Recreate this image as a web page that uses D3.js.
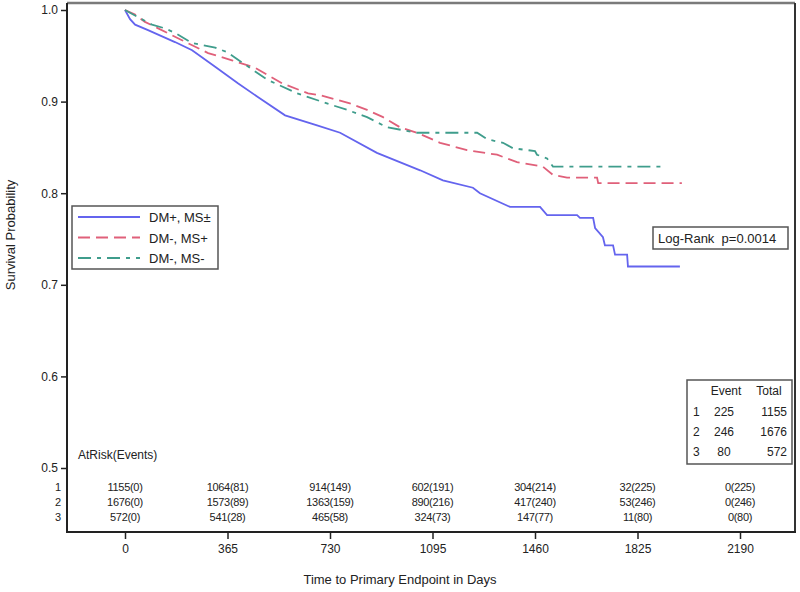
<!DOCTYPE html>
<html>
<head>
<meta charset="utf-8">
<script src="https://cdn.jsdelivr.net/npm/d3@7"></script>
<style>
  body { margin: 0; background: #fff; }
  svg { display: block; font-family: "Liberation Sans", Arial, sans-serif; }
</style>
</head>
<body>
<svg id="chart" width="800" height="592"></svg>
<script>
// ---- data ----
const seriesNames = ["DM+, MS\u00b1", "DM-, MS+", "DM-, MS-"];
const seriesColors = ["#6464ee", "#e0607a", "#3f9d8c"];

// [day, survival probability]
const curveDMpos = [[0,1],[18,0.99],[36,0.984],[82,0.978],[178,0.965],[239,0.956],[321,0.938],[402,0.920],[473,0.905],[570,0.885],[684,0.874],[766,0.866],[897,0.844],[1051,0.825],[1132,0.814],[1239,0.806],[1264,0.800],[1371,0.785],[1478,0.785],[1503,0.776],[1610,0.776],[1620,0.773],[1667,0.773],[1674,0.762],[1702,0.752],[1709,0.743],[1738,0.743],[1745,0.733],[1788,0.733],[1791,0.720],[1976,0.720]];
const curveDMnegMSpos = [[0,1],[36,0.995],[71,0.987],[118,0.980],[203,0.967],[296,0.953],[381,0.945],[463,0.937],[559,0.920],[652,0.909],[694,0.907],[801,0.898],[862,0.891],[919,0.883],[979,0.872],[1040,0.866],[1122,0.855],[1218,0.847],[1325,0.842],[1396,0.834],[1488,0.829],[1524,0.820],[1574,0.817],[1681,0.817],[1685,0.811],[1983,0.811]];
const curveDMnegMSneg = [[0,1],[11,0.998],[96,0.984],[142,0.980],[178,0.975],[239,0.964],[321,0.959],[363,0.954],[420,0.942],[506,0.924],[613,0.909],[719,0.898],[791,0.891],[862,0.883],[933,0.872],[1040,0.866],[1254,0.866],[1289,0.859],[1346,0.855],[1382,0.849],[1460,0.846],[1467,0.842],[1503,0.838],[1524,0.829],[1916,0.829]];

const xTicks = [0, 365, 730, 1095, 1460, 1825, 2190];
const yTicks = [0.5, 0.6, 0.7, 0.8, 0.9, 1.0];

const atRisk1 = [1155, 1064, 914, 602, 304, 32, 0];
const events1 = [0, 81, 149, 191, 214, 225, 225];
const atRisk2 = [1676, 1573, 1363, 890, 417, 53, 0];
const events2 = [0, 89, 159, 216, 240, 246, 246];
const atRisk3 = [572, 541, 465, 324, 147, 11, 0];
const events3 = [0, 28, 58, 73, 77, 80, 80];

const tableEvents = [225, 246, 80];
const tableTotals = [1155, 1676, 572];
const logRankText = "Log-Rank  p=0.0014";

// ---- drawing ----
const svg = d3.select("#chart");
const frame = { left: 67, right: 795, top: 3, bottom: 532 };
const x = d3.scaleLinear().domain([0, 2190]).range([125, 740]);
const y = d3.scaleLinear().domain([0.5, 1.0]).range([468, 10]);

svg.append("rect").attr("width", 800).attr("height", 592).attr("fill", "#fff");

// curves
const curves = [curveDMpos, curveDMnegMSpos, curveDMnegMSneg];
const dashes = [null, "12,6", "13,6,4,6"];
const line = d3.line().x(d => x(d[0])).y(d => y(d[1])).curve(d3.curveLinear);
curves.forEach((c, i) => {
  svg.append("path").datum(c)
    .attr("d", line)
    .attr("fill", "none")
    .attr("stroke", seriesColors[i])
    .attr("stroke-width", 1.8)
    .attr("stroke-dasharray", dashes[i]);
});

// frame
svg.append("line").attr("x1", frame.left).attr("x2", frame.right).attr("y1", frame.top).attr("y2", frame.top)
  .attr("stroke", "#7a7a7a").attr("stroke-width", 2.5);
svg.append("line").attr("x1", frame.right).attr("x2", frame.right).attr("y1", frame.top).attr("y2", frame.bottom)
  .attr("stroke", "#333").attr("stroke-width", 2);
svg.append("line").attr("x1", frame.left).attr("x2", frame.left).attr("y1", frame.top).attr("y2", frame.bottom + 1)
  .attr("stroke", "#222").attr("stroke-width", 2);
svg.append("line").attr("x1", frame.left - 1).attr("x2", frame.right + 1).attr("y1", frame.bottom).attr("y2", frame.bottom)
  .attr("stroke", "#222").attr("stroke-width", 2);

// y axis
const yAxis = svg.append("g").attr("transform", `translate(${frame.left},0)`)
  .call(d3.axisLeft(y).tickValues(yTicks).tickFormat(d3.format(".1f")).tickSize(6).tickPadding(3));
yAxis.select(".domain").remove();
yAxis.selectAll("line").attr("stroke", "#222").attr("stroke-width", 1.5);
yAxis.selectAll("text").attr("font-size", 12).attr("fill", "#222").attr("font-family", "Liberation Sans, Arial, sans-serif");

// x axis
const xAxis = svg.append("g").attr("transform", `translate(0,${frame.bottom})`)
  .call(d3.axisBottom(x).tickValues(xTicks).tickFormat(d3.format("d")).tickSize(7).tickPadding(5));
xAxis.select(".domain").remove();
xAxis.selectAll("line").attr("stroke", "#222").attr("stroke-width", 1.5);
xAxis.selectAll("text").attr("font-size", 12).attr("fill", "#222").attr("font-family", "Liberation Sans, Arial, sans-serif");

// axis titles
svg.append("text").attr("x", 400).attr("y", 584).attr("text-anchor", "middle")
  .attr("font-size", 13).attr("fill", "#222").text("Time to Primary Endpoint in Days");
svg.append("text").attr("transform", "translate(15,235) rotate(-90)").attr("text-anchor", "middle")
  .attr("font-size", 13).attr("fill", "#222").text("Survival Probability");

// legend
const lg = svg.append("g");
lg.append("rect").attr("x", 72).attr("y", 206).attr("width", 146).attr("height", 63)
  .attr("fill", "#fff").attr("stroke", "#555").attr("stroke-width", 1.5);
seriesNames.forEach((n, i) => {
  const ly = 217 + i * 20.5;
  lg.append("line").attr("x1", 78).attr("x2", 140).attr("y1", ly).attr("y2", ly)
    .attr("stroke", seriesColors[i]).attr("stroke-width", 1.8).attr("stroke-dasharray", dashes[i]);
  lg.append("text").attr("x", 149).attr("y", ly + 5).attr("font-size", 13).attr("fill", "#222").text(n);
});

// log-rank box
svg.append("rect").attr("x", 653).attr("y", 227).attr("width", 135).attr("height", 22)
  .attr("fill", "#fff").attr("stroke", "#555").attr("stroke-width", 1.5);
svg.append("text").attr("x", 658).attr("y", 243).attr("font-size", 13).attr("fill", "#222")
  .attr("xml:space", "preserve").style("white-space", "pre").text(logRankText);

// event table
const tb = svg.append("g");
tb.append("rect").attr("x", 687).attr("y", 380).attr("width", 105).attr("height", 84)
  .attr("fill", "#fff").attr("stroke", "#555").attr("stroke-width", 1.5);
tb.append("text").attr("x", 726).attr("y", 395).attr("text-anchor", "middle").attr("font-size", 12).attr("fill", "#222").text("Event");
tb.append("text").attr("x", 769).attr("y", 395).attr("text-anchor", "middle").attr("font-size", 12).attr("fill", "#222").text("Total");
tableEvents.forEach((e, i) => {
  const ty = 416 + i * 20;
  tb.append("text").attr("x", 693).attr("y", ty).attr("font-size", 12).attr("fill", "#222").text(i + 1);
  tb.append("text").attr("x", 724).attr("y", ty).attr("text-anchor", "middle").attr("font-size", 12).attr("fill", "#222").text(e);
  tb.append("text").attr("x", 787).attr("y", ty).attr("text-anchor", "end").attr("font-size", 12).attr("fill", "#222").text(tableTotals[i]);
});

// at-risk table
svg.append("text").attr("x", 78).attr("y", 459).attr("font-size", 12).attr("fill", "#222").text("AtRisk(Events)");
const riskRows = [[atRisk1, events1], [atRisk2, events2], [atRisk3, events3]];
riskRows.forEach((r, i) => {
  const ry = 491 + i * 15;
  svg.append("text").attr("x", 58).attr("y", ry).attr("text-anchor", "middle").attr("font-size", 11).attr("fill", "#222").text(i + 1);
  xTicks.forEach((t, j) => {
    svg.append("text").attr("x", x(t)).attr("y", ry).attr("text-anchor", "middle")
      .attr("font-size", 11).attr("fill", "#222").attr("letter-spacing", "-0.3")
      .text(`${r[0][j]}(${r[1][j]})`);
  });
});
</script>
</body>
</html>
